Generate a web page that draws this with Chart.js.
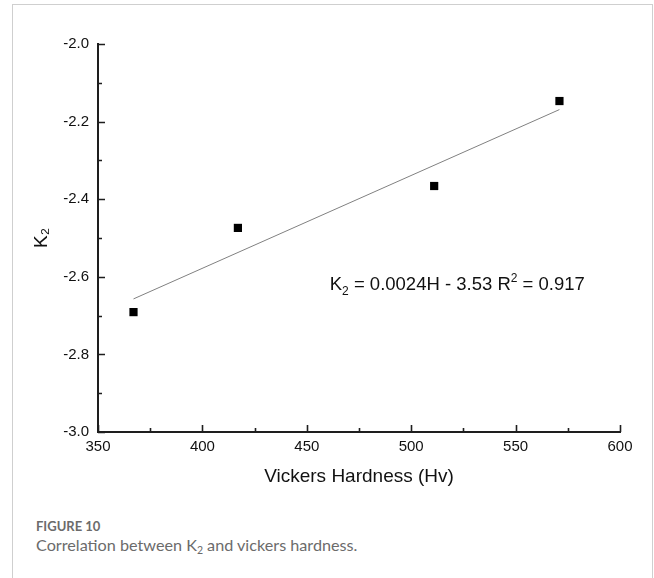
<!DOCTYPE html>
<html>
<head>
<meta charset="utf-8">
<script src="https://cdn.jsdelivr.net/npm/chart.js@4.4.1/dist/chart.umd.min.js"></script>
<style>
    body { margin: 0; background: #fff; }
    #frame {
        position: absolute; left: 12px; top: 4px; width: 639px; height: 600px;
        border: 1px solid #cfcfcf; border-bottom: none;
    }
    #wrap { position: absolute; left: 0; top: 0; width: 654px; height: 500px; }
    #cap1 {
        position: absolute; left: 36px; top: 518px;
        font-family: Lato, sans-serif; font-weight: 700; font-size: 13px; color: #6b6b6b;
    }
    #cap2 {
        position: absolute; left: 36px; top: 535px;
        font-family: Lato, sans-serif; font-size: 16.2px; color: #6b6b6b;
    }
    #cap2 sub { font-size: 10.5px; vertical-align: -3px; line-height: 0; }
</style>
</head>
<body>
<div id="frame"></div>
<div id="wrap"><canvas id="canvas1" width="654" height="500"></canvas></div>
<div id="cap1">FIGURE 10</div>
<div id="cap2">Correlation between K<sub>2</sub> and vickers hardness.</div>
<script>
"use strict";

// data
let hardness = [367, 417, 511, 571];
let k2 = [-2.691, -2.474, -2.366, -2.147];

// fitted line end points
let fitX = [367, 571];
let fitY = [-2.657, -2.169];

let xTicks = [350, 400, 450, 500, 550, 600];
let yTicks = [-2.0, -2.2, -2.4, -2.6, -2.8, -3.0];

let axisColor = "#1e1e1e";

// inward tick marks, major + minor
let tickPlugin = {
    id: "inTicks",
    afterDraw(chart) {
        let ctx = chart.ctx;
        let xs = chart.scales.x;
        let ys = chart.scales.y;
        let ca = chart.chartArea;
        ctx.save();
        ctx.strokeStyle = axisColor;
        ctx.lineWidth = 1.6;
        ctx.beginPath();
        for (let v = 350; v <= 600; v += 25) {
            let px = Math.round(xs.getPixelForValue(v)) + 0.5;
            let len = (v % 50 == 0) ? 7 : 4;
            ctx.moveTo(px, ca.bottom);
            ctx.lineTo(px, ca.bottom - len);
        }
        for (let i = 0; i <= 10; i++) {
            let v = -3.0 + i * 0.1;
            let py = Math.round(ys.getPixelForValue(v)) + 0.5;
            let len = (i % 2 == 0) ? 7 : 4;
            ctx.moveTo(ca.left, py);
            ctx.lineTo(ca.left + len, py);
        }
        ctx.stroke();

        // equation text
        let ex = xs.getPixelForValue(461);
        let ey = ys.getPixelForValue(-2.634);
        ctx.fillStyle = "#111";
        ctx.textBaseline = "alphabetic";
        ctx.textAlign = "left";
        let big = "18.5px 'Liberation Sans', Arial, sans-serif";
        let small = "12px 'Liberation Sans', Arial, sans-serif";
        let x = ex;
        let parts = [
            ["K", big, 0], ["2", small, 5], [" = 0.0024H - 3.53 R", big, 0],
            ["2", small, -8], [" = 0.917", big, 0]
        ];
        for (let p of parts) {
            ctx.font = p[1];
            ctx.fillText(p[0], x, ey + p[2]);
            x += ctx.measureText(p[0]).width;
        }
        ctx.restore();
    }
};

let canvas1 = document.querySelector("#canvas1");

let opts = {
    type: "scatter",
    data: {
        datasets: [
            {
                label: "K2",
                data: hardness.map((h, i) => ({ x: h, y: k2[i] })),
                pointStyle: "rect",
                pointRadius: 5.8,
                backgroundColor: "#000",
                borderColor: "#000",
                borderWidth: 0,
            },
            {
                label: "fit",
                data: fitX.map((h, i) => ({ x: h, y: fitY[i] })),
                showLine: true,
                pointRadius: 0,
                borderColor: "#808080",
                borderWidth: 1,
            },
        ],
    },
    options: {
        responsive: false,
        animation: false,
        layout: { padding: { left: 0, top: 44, right: 34, bottom: 8 } },
        plugins: { legend: { display: false }, tooltip: { enabled: false } },
        scales: {
            x: {
                type: "linear",
                min: 350, max: 600,
                afterFit: (s) => { s.height = 60; },
                afterBuildTicks: (s) => { s.ticks = xTicks.map(v => ({ value: v })); },
                border: { display: true, color: axisColor, width: 2 },
                grid: { display: true, drawOnChartArea: false, drawTicks: false, color: "rgba(0,0,0,0)" },
                ticks: {
                    color: "#111", padding: 6,
                    font: { family: "'Liberation Sans', Arial", size: 15 },
                    maxRotation: 0,
                },
                title: {
                    display: true, text: "Vickers Hardness (Hv)", color: "#111",
                    font: { family: "'Liberation Sans', Arial", size: 19 },
                    padding: { top: 4, bottom: 4 },
                },
            },
            y: {
                type: "linear",
                min: -3.0, max: -2.0,
                afterFit: (s) => { s.width = 98; },
                afterBuildTicks: (s) => { s.ticks = yTicks.map(v => ({ value: v })); },
                border: { display: true, color: axisColor, width: 2 },
                grid: { display: true, drawOnChartArea: false, drawTicks: false, color: "rgba(0,0,0,0)" },
                ticks: {
                    color: "#111", padding: 9,
                    font: { family: "'Liberation Sans', Arial", size: 15 },
                    callback: (v) => Number(v).toFixed(1),
                },
                title: {
                    display: true, text: "K\u2082", color: "#111",
                    font: { family: "'Liberation Sans', Arial", size: 19 },
                    padding: { top: 30, bottom: 0 },
                },
            },
        },
    },
    plugins: [tickPlugin],
};

let chart1 = new Chart(canvas1, opts);
</script>
</body>
</html>
